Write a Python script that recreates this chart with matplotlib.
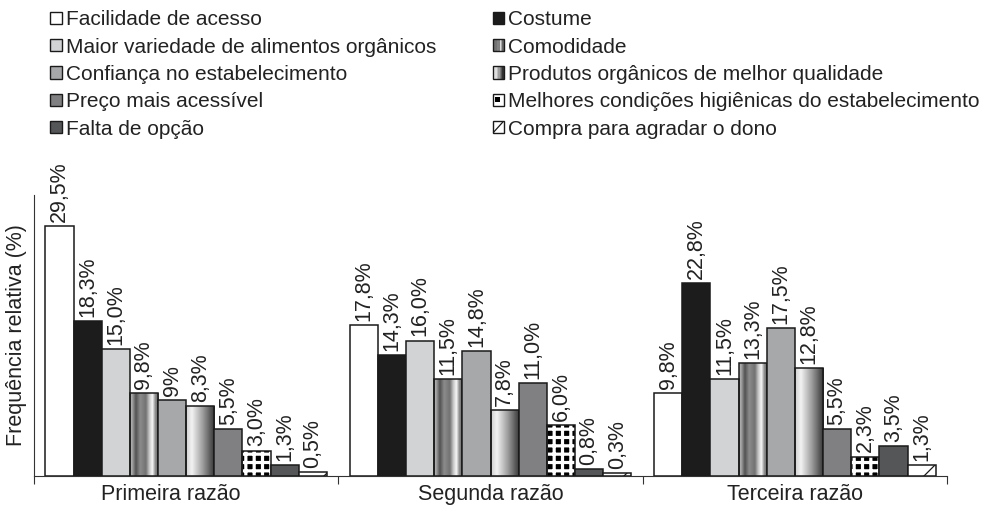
import matplotlib
matplotlib.use("Agg")
import matplotlib.pyplot as plt
import numpy as np
from matplotlib.patches import Rectangle
from matplotlib.legend_handler import HandlerBase

plt.rcParams['font.family'] = ['Liberation Sans', 'DejaVu Sans']

groups = ['Primeira razão', 'Segunda razão', 'Terceira razão']
reasons = ['Facilidade de acesso', 'Costume',
           'Maior variedade de alimentos orgânicos', 'Comodidade',
           'Confiança no estabelecimento', 'Produtos orgânicos de melhor qualidade',
           'Preço mais acessível', 'Melhores condições higiênicas do estabelecimento',
           'Falta de opção', 'Compra para agradar o dono']

primeira = [29.5, 18.3, 15.0, 9.8, 9, 8.3, 5.5, 3.0, 1.3, 0.5]
segunda = [17.8, 14.3, 16.0, 11.5, 14.8, 7.8, 11.0, 6.0, 0.8, 0.3]
terceira = [9.8, 22.8, 11.5, 13.3, 17.5, 12.8, 5.5, 2.3, 3.5, 1.3]

labels_primeira = ['29,5%', '18,3%', '15,0%', '9,8%', '9%', '8,3%', '5,5%', '3,0%', '1,3%', '0,5%']
labels_segunda = ['17,8%', '14,3%', '16,0%', '11,5%', '14,8%', '7,8%', '11,0%', '6,0%', '0,8%', '0,3%']
labels_terceira = ['9,8%', '22,8%', '11,5%', '13,3%', '17,5%', '12,8%', '5,5%', '2,3%', '3,5%', '1,3%']

values = [primeira, segunda, terceira]
labels = [labels_primeira, labels_segunda, labels_terceira]

# gray profiles (across the bar width) for the shaded bars
cylinder = ([0, 0.08, 0.2, 0.35, 0.55, 0.68, 0.78, 0.88, 1.0],
            [0.72, 0.62, 0.32, 0.55, 0.45, 0.8, 0.97, 0.55, 0.4])
ramp = ([0, 0.2, 0.6, 1.0], [0.82, 0.95, 0.6, 0.2])

# style per reason: (kind, parameter)
styles = [('solid', '#ffffff'), ('solid', '#1c1c1c'), ('solid', '#d2d3d5'),
          ('grad', cylinder), ('solid', '#a7a8aa'), ('grad', ramp),
          ('solid', '#808082'), ('grid', None), ('solid', '#555657'),
          ('hatch', '/')]

TXT = '#222222'
EDGE = '#1a1a1a'
LW = 1.1
FS = 15.5
FS_LEG = 15


def profile_colors(prof, n):
    xs = np.linspace(0, 1, n)
    g = np.interp(xs, prof[0], prof[1])
    return g


class Handler(HandlerBase):
    def create_artists(self, legend, orig_handle, xdescent, ydescent,
                       width, height, fontsize, trans):
        kind, par = orig_handle
        x0, y0 = -xdescent, -ydescent
        arts = []
        if kind == 'grad':
            n = 8
            g = profile_colors(par, n)
            for i in range(n):
                arts.append(Rectangle((x0 + i * width / n, y0), width / n, height,
                                      facecolor=str(g[i]), edgecolor='none',
                                      transform=trans))
            arts.append(Rectangle((x0, y0), width, height, fill=False,
                                  edgecolor=EDGE, lw=1.0, transform=trans))
        elif kind == 'grid':
            arts.append(Rectangle((x0, y0), width, height, facecolor='white',
                                  edgecolor=EDGE, lw=1.0, transform=trans))
            arts.append(Rectangle((x0 + width * 0.2, y0 + height * 0.3), width * 0.5,
                                  height * 0.45, facecolor='black', edgecolor='none',
                                  transform=trans))
        elif kind == 'hatch':
            arts.append(Rectangle((x0, y0), width, height, facecolor='white',
                                  edgecolor=EDGE, lw=1.0, transform=trans))
            arts.append(plt.Line2D([x0 + width * 0.1, x0 + width * 0.9],
                                   [y0 + height * 0.1, y0 + height * 0.9],
                                   color=EDGE, lw=0.9, transform=trans))
        else:
            arts.append(Rectangle((x0, y0), width, height, facecolor=par,
                                  edgecolor=EDGE, lw=1.0, transform=trans))
        return arts


fig = plt.figure(figsize=(9.85, 5.08), dpi=100)
ax = fig.add_axes([0.0345, 0.063, 0.927, 0.553])

n = len(reasons)
w = 0.925 / n
for gi in range(len(groups)):
    for j in range(n):
        x = gi + (j - (n - 1) / 2) * w
        h = values[gi][j]
        kind, par = styles[j]
        if kind == 'solid':
            ax.bar(x, h, w, color=par, edgecolor=EDGE, linewidth=LW, zorder=3)
        elif kind == 'grad':
            outline = ax.bar(x, h, w, facecolor='none', edgecolor=EDGE,
                             linewidth=LW, zorder=3)[0]
            g = profile_colors(par, 64)
            img = ax.imshow(g[np.newaxis, :], cmap='gray', vmin=0, vmax=1,
                            extent=[x - w / 2, x + w / 2, 0, h], aspect='auto',
                            interpolation='bilinear', zorder=2)
            img.set_clip_path(outline)
        elif kind == 'grid':
            with plt.rc_context({'hatch.linewidth': 2.3}):
                b = ax.bar(x, h, w, color='black', edgecolor='white', hatch='++',
                           linewidth=0, zorder=2)[0]
            if hasattr(b, 'set_hatch_linewidth'):
                b.set_hatch_linewidth(2.3)
            ax.bar(x, h, w, facecolor='none', edgecolor=EDGE, linewidth=LW, zorder=3)
        else:
            with plt.rc_context({'hatch.linewidth': 0.9}):
                b = ax.bar(x, h, w, color='white', edgecolor=EDGE, hatch=par,
                           linewidth=LW, zorder=3)[0]
            if hasattr(b, 'set_hatch_linewidth'):
                b.set_hatch_linewidth(0.9)
        ax.annotate(labels[gi][j], (x, h), xytext=(0, 3), textcoords='offset points',
                    rotation=90, ha='center', va='bottom', fontsize=FS, color=TXT)

ax.set_xlim(-0.5, len(groups) - 0.5)
ax.set_ylim(0, 33.2)
ax.spines['top'].set_visible(False)
ax.spines['right'].set_visible(False)
ax.spines['left'].set_color('#333333')
ax.spines['bottom'].set_color('#333333')
ax.set_yticks([])
ax.set_xticks(np.arange(len(groups) + 1) - 0.5)
ax.set_xticklabels([])
ax.tick_params(axis='x', which='major', direction='out', length=6, color='#333333')
# first group label sits a little left of its group centre in the original
ax.set_xticks([-0.05, 1, 2], minor=True)
ax.set_xticklabels(groups, minor=True, fontsize=FS, color=TXT)
ax.tick_params(axis='x', which='minor', length=0, pad=6)
ax.set_ylabel('Frequência relativa (%)', fontsize=FS, color=TXT, labelpad=5)

order = [0, 2, 4, 6, 8, 1, 3, 5, 7, 9]
handles = [styles[i] for i in order]
names = [reasons[i] for i in order]
fig.legend(handles, names, handler_map={tuple: Handler()}, ncol=2,
           loc='upper left', bbox_to_anchor=(0.047, 0.988), frameon=False,
           fontsize=FS_LEG, labelcolor=TXT, handlelength=0.54, handleheight=0.54,
           handletextpad=0.2, labelspacing=0.40, columnspacing=2.7,
           borderpad=0.2, borderaxespad=0)

fig.savefig('out.png', dpi=100)
